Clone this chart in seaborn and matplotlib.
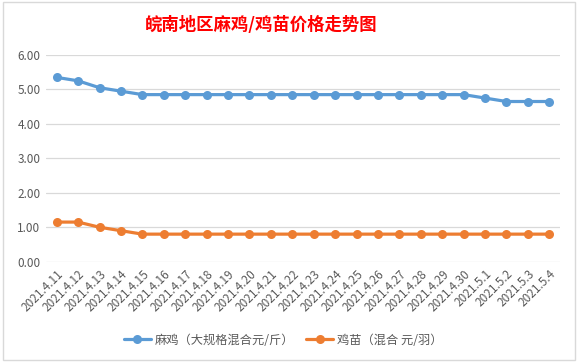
import pandas as pd
import matplotlib.pyplot as plt
import seaborn as sns
from matplotlib.patches import Rectangle

# chart data
dates = ['2021.4.11', '2021.4.12', '2021.4.13', '2021.4.14', '2021.4.15', '2021.4.16',
         '2021.4.17', '2021.4.18', '2021.4.19', '2021.4.20', '2021.4.21', '2021.4.22',
         '2021.4.23', '2021.4.24', '2021.4.25', '2021.4.26', '2021.4.27', '2021.4.28',
         '2021.4.29', '2021.4.30', '2021.5.1', '2021.5.2', '2021.5.3', '2021.5.4']
ma_ji = [5.35, 5.25, 5.05, 4.95, 4.85, 4.85, 4.85, 4.85, 4.85, 4.85, 4.85, 4.85,
         4.85, 4.85, 4.85, 4.85, 4.85, 4.85, 4.85, 4.85, 4.75, 4.65, 4.65, 4.65]
ji_miao = [1.15, 1.15, 1.00, 0.90, 0.80, 0.80, 0.80, 0.80, 0.80, 0.80, 0.80, 0.80,
           0.80, 0.80, 0.80, 0.80, 0.80, 0.80, 0.80, 0.80, 0.80, 0.80, 0.80, 0.80]
series_names = ['麻鸡（大规格混合元/斤）', '鸡苗（混合 元/羽）']
y_ticks = [0, 1, 2, 3, 4, 5, 6]

sns.set_theme(style='white')
plt.rcParams['font.family'] = ['Noto Sans CJK SC', 'DejaVu Sans']

df = pd.DataFrame({'pos': range(len(dates)), 'date': dates,
                   series_names[0]: ma_ji, series_names[1]: ji_miao})
long_df = df.melt(id_vars=['pos', 'date'], var_name='series', value_name='price')

fig = plt.figure(figsize=(5.78, 3.62), dpi=100)
ax = fig.add_axes([46 / 578, 1 - 261.7 / 362, 514 / 578, (261.7 - 55) / 362])

sns.lineplot(data=long_df, x='pos', y='price', hue='series', hue_order=series_names,
             palette=['#5B9BD5', '#ED7D31'], marker='o', markersize=6.5,
             markeredgewidth=0, linewidth=2.3, ax=ax)

ax.set_xlim(-0.5, len(dates) - 0.5)
ax.set_ylim(0, 6)
ax.set_yticks(y_ticks)
ax.set_yticklabels([f'{v:.2f}' for v in y_ticks], fontsize=8.5, color='#595959')
ax.set_xticks(range(len(dates)))
ax.set_xticklabels(dates, rotation=45, ha='right', rotation_mode='anchor',
                   fontsize=8.5, color='#595959')
ax.tick_params(axis='both', length=0, pad=4)
ax.yaxis.grid(True, color='#D9D9D9', linewidth=0.9)
ax.set_axisbelow(True)
for s in ax.spines.values():
    s.set_visible(False)
ax.set_xlabel('')
ax.set_ylabel('')

fig.text(0.452, 1 - 25 / 362, '皖南地区麻鸡/鸡苗价格走势图', ha='center', va='center',
         fontsize=12.5, fontweight='bold', color='#FF0000')

handles, labels = ax.get_legend_handles_labels()
ax.legend_.remove()
fig.legend(handles, labels, loc='center', bbox_to_anchor=(0.49, 1 - 340 / 362),
           ncol=2, frameon=False, fontsize=8.8, handlelength=2.2, columnspacing=1.0,
           handletextpad=0.3, labelcolor='#595959')

fig.patches.append(Rectangle((0.005, 0.005), 0.99, 0.99, transform=fig.transFigure,
                             fill=False, edgecolor='#D9D9D9', linewidth=1))

fig.savefig('out.png', dpi=100)
